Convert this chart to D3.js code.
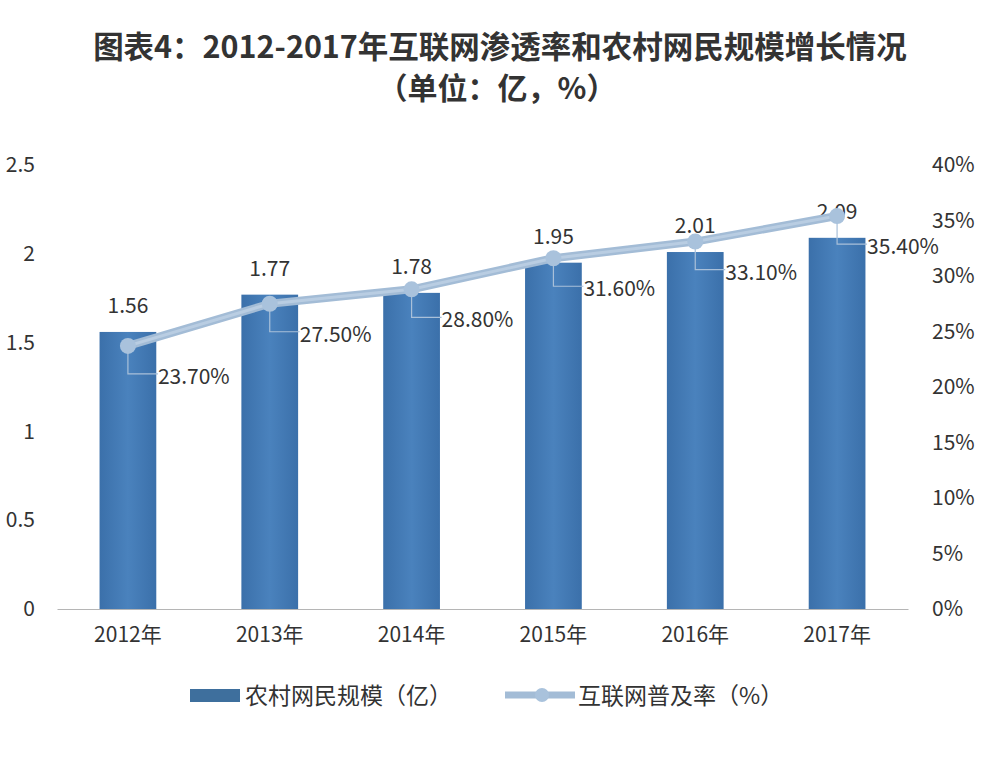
<!DOCTYPE html>
<html><head><meta charset="utf-8">
<script src="https://cdn.jsdelivr.net/npm/d3@7"></script>
<style>body{margin:0;background:#fff}svg{display:block}text{font-family:"Noto Sans CJK SC","Noto Sans",sans-serif}</style>
</head><body>
<svg id="c" width="1000" height="758"></svg>
<script>
const years = ["2012年","2013年","2014年","2015年","2016年","2017年"];
const ruralUsers = [1.56,1.77,1.78,1.95,2.01,2.09];
const penetration = [23.7,27.5,28.8,31.6,33.1,35.4];
const leftTicks = [0,0.5,1,1.5,2,2.5];
const rightTicks = [0,5,10,15,20,25,30,35,40];
const seriesNames = ["农村网民规模（亿）","互联网普及率（%）"];
const title1 = "图表4：2012-2017年互联网渗透率和农村网民规模增长情况";
const title2 = "（单位：亿，%）";

const svg = d3.select("#c");
const defs = svg.append("defs");
const g1 = defs.append("linearGradient").attr("id","barg").attr("x1","0").attr("x2","1").attr("y1","0").attr("y2","0");
g1.append("stop").attr("offset","0%").attr("stop-color","#3b70aa");
g1.append("stop").attr("offset","50%").attr("stop-color","#4a82bd");
g1.append("stop").attr("offset","100%").attr("stop-color","#3b70aa");

const pL = 57, pR = 908, pT = 165, pB = 609;
const x = d3.scaleBand().domain(years).range([pL,pR]).paddingInner(0.6).paddingOuter(0.3);
const yL = d3.scaleLinear().domain([0,2.5]).range([pB,pT]);
const yR = d3.scaleLinear().domain([0,40]).range([pB,pT]);

// title
svg.append("text").attr("x",500).attr("y",58).attr("text-anchor","middle").attr("font-size",30.5).attr("font-weight","bold").attr("fill","#333").text(title1);
svg.append("text").attr("x",497).attr("y",99).attr("text-anchor","middle").attr("font-size",30).attr("font-weight","bold").attr("fill","#333").text(title2);

// bars
svg.selectAll("rect.bar").data(ruralUsers).enter().append("rect").attr("class","bar")
  .attr("x",(d,i)=>x(years[i])).attr("width",x.bandwidth())
  .attr("y",d=>yL(d)).attr("height",d=>pB-yL(d)).attr("fill","url(#barg)");

// x axis
const xa = svg.append("g").attr("transform",`translate(0,${pB})`).call(d3.axisBottom(x).tickSize(0).tickPadding(14));
xa.select(".domain").attr("stroke","#b5b5b5").attr("stroke-width",1.2);
xa.selectAll("text").attr("font-size",21).attr("fill","#333").attr("dy","0.9em");

// left axis
const la = svg.append("g").attr("transform","translate(35,0)").call(d3.axisLeft(yL).tickValues(leftTicks).tickSize(0).tickPadding(0).tickFormat(d3.format("")));
la.select(".domain").remove();
la.selectAll("text").attr("font-size",21).attr("fill","#333");

// right axis
const ra = svg.append("g").attr("transform","translate(932,0)").call(d3.axisRight(yR).tickValues(rightTicks).tickSize(0).tickPadding(0).tickFormat(d=>d+"%"));
ra.select(".domain").remove();
ra.selectAll("text").attr("font-size",21).attr("fill","#333").attr("text-anchor","start");

// bar value labels
svg.selectAll("text.bv").data(ruralUsers).enter().append("text").attr("class","bv")
  .attr("x",(d,i)=>x(years[i])+x.bandwidth()/2).attr("y",d=>yL(d)-19)
  .attr("text-anchor","middle").attr("font-size",21).attr("fill","#333").text(d=>d.toFixed(2));

// line
const cx = i => x(years[i])+x.bandwidth()/2;
const line = d3.line().x((d,i)=>cx(i)).y(d=>yR(d));
svg.selectAll("path.leader").data(penetration).enter().append("path").attr("class","leader")
  .attr("d",(d,i)=>`M${cx(i)},${yR(d)} L${cx(i)},${yR(d)+28} L${cx(i)+30},${yR(d)+28}`)
  .attr("fill","none").attr("stroke","#a9c0d9").attr("stroke-width",1.2);
svg.append("path").datum(penetration).attr("d",line).attr("fill","none").attr("stroke","#a3bcd6").attr("stroke-width",8).attr("stroke-linejoin","round");
svg.append("path").datum(penetration).attr("d",line).attr("fill","none").attr("stroke","#b9cde2").attr("stroke-width",3).attr("stroke-linejoin","round");
svg.selectAll("circle.pt").data(penetration).enter().append("circle").attr("class","pt")
  .attr("cx",(d,i)=>cx(i)).attr("cy",d=>yR(d)).attr("r",8).attr("fill","#a9c2dc");

// pct labels
svg.selectAll("text.pv").data(penetration).enter().append("text").attr("class","pv")
  .attr("x",(d,i)=>cx(i)+30).attr("y",d=>yR(d)+38)
  .attr("font-size",21).attr("fill","#333").text(d=>d.toFixed(2)+"%");

// legend
const lg = svg.append("g");
lg.append("rect").attr("x",190).attr("y",689).attr("width",50).attr("height",13).attr("fill","#3e6f9d");
lg.append("text").attr("x",245).attr("y",704).attr("font-size",23).attr("fill","#333").text(seriesNames[0]);
lg.append("line").attr("x1",505).attr("x2",575).attr("y1",695).attr("y2",695).attr("stroke","#a3bcd6").attr("stroke-width",7);
lg.append("circle").attr("cx",542).attr("cy",695).attr("r",7).attr("fill","#a9c2dc");
lg.append("text").attr("x",578).attr("y",704).attr("font-size",23).attr("fill","#333").text(seriesNames[1]);
</script>
</body></html>
